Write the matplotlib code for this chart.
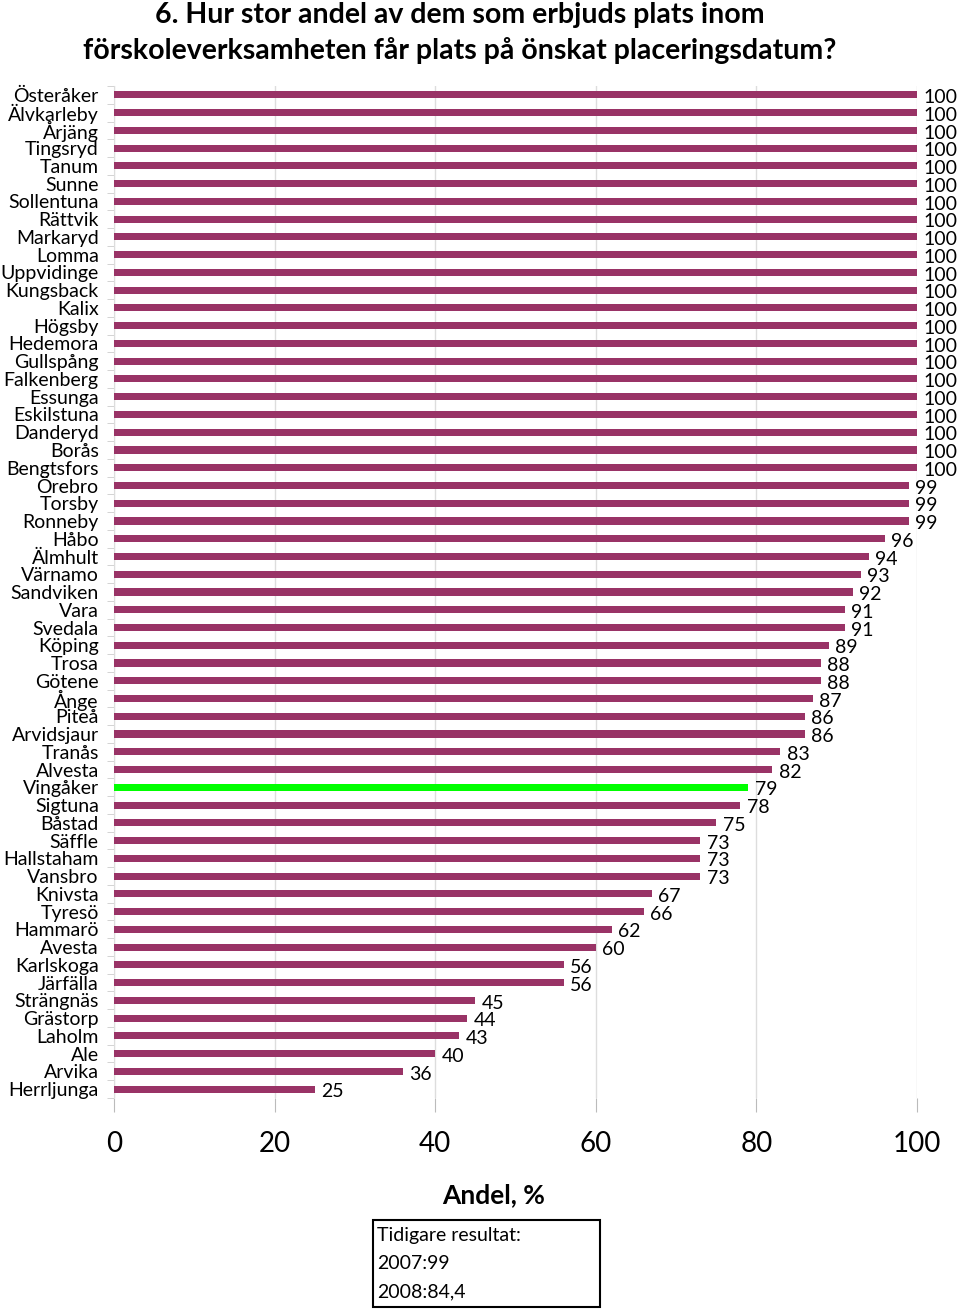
import matplotlib
matplotlib.use("Agg")
import matplotlib.pyplot as plt
from matplotlib.patches import Rectangle

categories = ["Österåker", "Älvkarleby", "Årjäng", "Tingsryd", "Tanum", "Sunne",
              "Sollentuna", "Rättvik", "Markaryd", "Lomma", "Uppvidinge", "Kungsback",
              "Kalix", "Högsby", "Hedemora", "Gullspång", "Falkenberg", "Essunga",
              "Eskilstuna", "Danderyd", "Borås", "Bengtsfors", "Örebro", "Torsby",
              "Ronneby", "Håbo", "Älmhult", "Värnamo", "Sandviken", "Vara", "Svedala",
              "Köping", "Trosa", "Götene", "Ånge", "Piteå", "Arvidsjaur", "Tranås",
              "Alvesta", "Vingåker", "Sigtuna", "Båstad", "Säffle", "Hallstaham",
              "Vansbro", "Knivsta", "Tyresö", "Hammarö", "Avesta", "Karlskoga",
              "Järfälla", "Strängnäs", "Grästorp", "Laholm", "Ale", "Arvika", "Herrljunga"]
values = [100, 100, 100, 100, 100, 100, 100, 100, 100, 100, 100, 100, 100, 100, 100,
          100, 100, 100, 100, 100, 100, 100, 99, 99, 99, 96, 94, 93, 92, 91, 91, 89,
          88, 88, 87, 86, 86, 83, 82, 79, 78, 75, 73, 73, 73, 67, 66, 62, 60, 56, 56,
          45, 44, 43, 40, 36, 25]
highlight = "Vingåker"
xticks = [0, 20, 40, 60, 80, 100]
title = "6. Hur stor andel av dem som erbjuds plats inom\nförskoleverksamheten får plats på önskat placeringsdatum?"
xlabel = "Andel, %"
note_lines = ["Tidigare resultat:", "2007:99", "2008:84,4"]

plt.rcParams['font.family'] = ['Lato', 'DejaVu Sans']

fig = plt.figure(figsize=(9.6, 13.12), dpi=100)
ax = fig.add_axes([114/960, 1 - 1098/1312, (917-114)/960, (1098-86)/1312])

n = len(categories)
ypos = list(range(n))
colors = ["#00FF00" if c == highlight else "#993366" for c in categories]
ax.barh(ypos, values, height=0.4, color=colors, zorder=3)
for y, v in zip(ypos, values):
    ax.text(v + 0.8, y + 0.15, f"{v:g}", va="center", ha="left", fontsize=14, color="black")

ax.set_ylim(n - 0.5, -0.5)
ax.set_xlim(0, 100)
ax.set_yticks(ypos)
ax.set_yticklabels(categories, fontsize=14)
ax.tick_params(axis="y", length=0, pad=11)
ax.set_yticks([i - 0.5 for i in range(n + 1)], minor=True)
ax.tick_params(axis="y", which="minor", length=5, color="#cccccc", direction="out")
ax.set_xticks(xticks)
ax.set_xticklabels([str(t) for t in xticks], fontsize=20)
ax.tick_params(axis="x", length=10, color="#bbbbbb", pad=14, direction="out")
ax.grid(axis="x", color="#dddddd", linewidth=1, zorder=0)
for s in ["top", "right", "bottom"]:
    ax.spines[s].set_visible(False)
ax.spines["left"].set_color("#dddddd")

fig.text(460/960, 1 - 33/1312, title, ha="center", va="center", fontsize=20.5,
         fontweight="bold", linespacing=1.45)
fig.text(494/960, 1 - 1195/1312, xlabel, ha="center", va="center", fontsize=19,
         fontweight="bold")

box = Rectangle((373/960, 1 - 1307/1312), (600-373)/960, (1307-1220)/1312,
                transform=fig.transFigure, fill=False, edgecolor="black", linewidth=1.5)
fig.patches.append(box)
for i, line in enumerate(note_lines):
    fig.text(377/960, 1 - (1235 + i*28.5)/1312, line, ha="left", va="center", fontsize=14)

fig.savefig("out.png", dpi=100)
